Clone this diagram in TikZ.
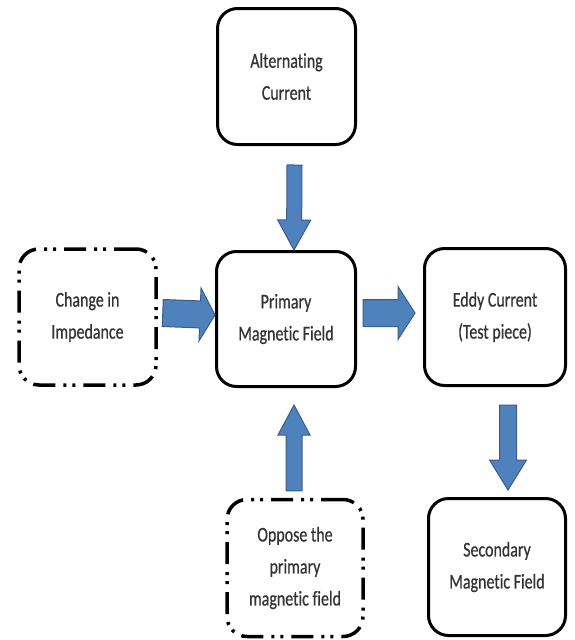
\documentclass[tikz,border=0pt]{standalone}
\usepackage{fontspec}
\setmainfont{Carlito}[FakeStretch=0.76,FakeBold=0.6,Ligatures=NoCommon]
\usetikzlibrary{calc}
\definecolor{arrowfill}{HTML}{4F81BD}
\definecolor{arrowline}{HTML}{385D8A}
\definecolor{textgray}{HTML}{333333}
\tikzset{
    chart/.style={
        x=1pt, y=-1pt,
        block/.append style={draw,line width=3pt,rounded corners=20pt,align=center,text=textgray,inner sep=0pt,font=\fontsize{21}{32}\selectfont},
        fixed/.append style={block},
        aside/.append style={block,line width=3.5pt,dash pattern=on 22pt off 8pt on 3pt off 6pt on 3pt off 8pt},
        push/.append style={fill=arrowfill,draw=arrowline,line width=1pt}
    }
}
% from, to, shaft half width, head half width, head length
\newcommand{\fatarrow}[5]{%
    \path[push] let \p1=(#1), \p2=(#2),
        \n1={atan2(\y2-\y1,\x2-\x1)}, \n2={veclen(\x2-\x1,\y2-\y1)} in
        [shift={(\p1)}, rotate=\n1]
        (0,-#3) -- ({\n2-#5},-#3) -- ({\n2-#5},-#4) -- (\n2,0) -- ({\n2-#5},#4) -- ({\n2-#5},#3) -- (0,#3) -- cycle;}

\begin{document}
\begin{tikzpicture}[chart]
    \useasboundingbox (0,0) rectangle (575,640);
    \node[fixed,minimum width=138pt,minimum height=136pt] (ac) at (286.5,76.5) {Alternating\\Current};
    \node[fixed,minimum width=139pt,minimum height=135pt] (pmf) at (286,319) {Primary\\Magnetic Field};
    \node[aside,minimum width=137pt,minimum height=136pt] (imp) at (87.5,317) {Change in\\Impedance};
    \node[fixed,minimum width=141pt,minimum height=137pt] (eddy) at (495,317) {Eddy Current\\(Test piece)};
    \node[fixed,minimum width=137pt,minimum height=137pt] (sec) at (497,567) {Secondary\\Magnetic Field};
    \node[aside,minimum width=136pt,minimum height=137pt] (opp) at (295,568) {Oppose the\\primary\\magnetic field};
    \fatarrow{$(ac.south)+(8,19)$}{$(pmf.north)+(8,0)$}{7.5}{16.5}{30}
    \fatarrow{$(opp.north)+(-1,-7)$}{$(pmf.south)+(8,17)$}{8}{16}{30}
    \fatarrow{$(imp.east)+(5,-4)$}{$(pmf.west)+(0,-4)$}{13.5}{26.5}{15}
    \fatarrow{$(pmf.east)+(6,-6)$}{$(eddy.west)+(-8,-4)$}{13.5}{26.5}{17}
    \fatarrow{$(eddy.south)+(13,18)$}{$(sec.north)+(11,-7)$}{8.5}{18.5}{30}
\end{tikzpicture}
\end{document}
